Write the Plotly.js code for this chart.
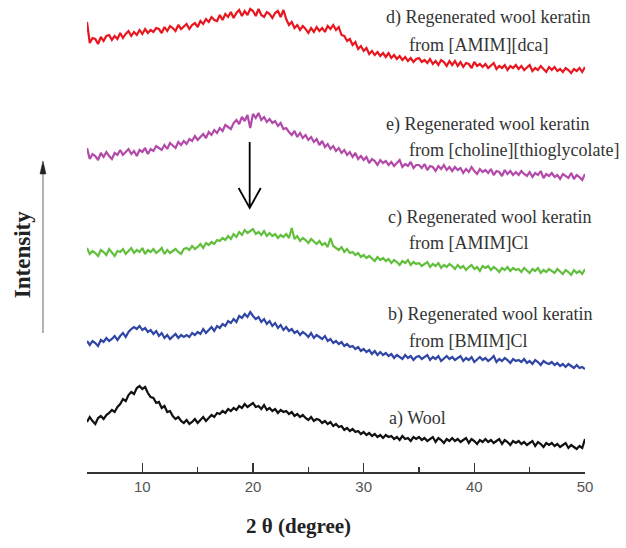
<!DOCTYPE html>
<html>
<head>
<meta charset="utf-8">
<script src="https://cdn.plot.ly/plotly-3.0.1.min.js"></script>
<style>html,body{margin:0;padding:0;background:#fff;}#chart{width:626px;height:548px;}</style>
</head>
<body>
<div id="chart"></div>
<script>
// 2θ sampling grid (degrees): 5 to 50 in 0.25° steps
const angleStart = 5, angleStep = 0.25, angleCount = 181;
const twoTheta = Array.from({length: angleCount}, (_, i) => angleStart + angleStep * i);

// Intensities (a.u., offset-stacked)
const woolKeratinDca = [
 450,429,434,433,428,435,431,436,437,432,436,433,
 439,434,438,441,436,440,437,442,438,443,439,442,
 440,444,443,439,445,441,446,444,441,447,443,446,
 448,443,447,449,445,451,448,453,450,455,452,451,
 457,452,458,455,460,454,459,462,456,461,457,463,
 461,456,463,457,455,460,458,454,459,461,455,462,
 453,447,450,444,447,442,446,443,439,444,440,445,
 441,444,440,446,443,447,442,445,437,436,431,433,
 427,430,423,426,421,424,418,421,417,420,416,419,
 415,419,414,417,413,416,412,415,411,414,410,413,
 414,410,412,409,413,408,411,407,412,410,406,411,
 407,411,406,410,405,409,408,404,410,406,408,405,
 408,404,407,409,403,406,404,407,402,406,404,407,
 403,406,402,405,407,401,404,402,406,403,400,405,
 402,405,401,403,400,404,402,399,403,401,404,400,
 405];
const woolKeratinThio = [
 324,313,318,316,312,319,315,320,316,313,319,317,
 322,317,320,323,318,321,316,322,320,324,318,323,
 321,326,324,322,327,323,329,326,324,330,327,331,
 328,333,331,336,332,335,338,334,340,337,342,339,
 344,341,347,345,343,349,352,348,355,351,357,344,
 358,354,359,352,355,350,353,349,351,346,349,343,
 344,340,337,341,335,339,334,337,332,335,330,333,
 327,331,325,328,323,326,321,324,319,322,317,320,
 315,319,313,316,312,315,309,313,311,307,312,309,
 311,307,310,306,309,312,305,308,306,310,304,307,
 307,304,308,302,306,305,301,306,303,307,302,305,
 301,305,302,304,299,303,300,305,301,298,303,300,
 302,299,303,297,301,300,296,302,298,301,297,300,
 297,301,298,296,300,295,299,297,301,294,298,296,
 299,295,297,293,298,296,294,299,293,297,295,292,
 298];
const woolKeratinAmimCl = [
 224,218,221,219,216,222,220,217,223,219,216,221,
 220,223,218,221,224,219,222,220,224,218,222,220,
 223,219,221,224,218,222,219,221,223,220,218,223,
 224,222,226,223,225,228,224,229,227,230,228,232,
 231,234,232,236,233,238,235,240,237,242,239,241,
 243,238,240,237,241,236,239,236,238,234,237,235,
 238,234,244,233,236,231,234,232,229,233,230,228,
 231,227,229,225,234,226,224,222,225,220,223,219,
 220,217,219,215,217,214,216,213,211,215,212,214,
 211,213,209,212,210,207,211,209,212,207,210,208,
 209,206,208,210,205,208,206,209,204,207,205,208,
 206,203,207,204,206,202,205,207,203,205,201,206,
 204,206,202,205,203,200,204,202,205,201,204,202,
 203,200,204,201,199,203,201,204,199,202,200,203,
 201,199,203,200,198,202,200,197,202,199,201,198,
 203];
const woolKeratinBmimCl = [
 131,127,131,129,126,132,130,134,131,133,136,132,
 136,139,135,140,143,145,143,146,142,144,140,142,
 138,141,136,139,134,137,133,136,138,134,137,135,
 137,135,139,137,140,138,143,139,142,145,141,146,
 144,148,146,151,149,153,150,156,154,158,155,160,
 156,153,155,150,153,148,151,146,149,144,147,142,
 145,141,143,139,141,137,140,138,135,139,134,137,
 135,133,136,131,133,129,131,128,130,126,128,125,
 126,123,125,121,123,120,122,118,121,117,120,117,
 119,116,118,114,117,115,113,117,114,116,112,115,
 116,113,115,117,112,115,113,116,111,114,116,113,
 115,112,114,116,111,114,112,115,110,113,115,112,
 114,111,113,116,110,113,111,114,112,109,113,111,
 112,110,113,109,111,108,112,110,107,111,109,108,
 110,107,109,106,108,105,108,106,104,107,104,105,
 103];
const wool = [
 50,55,51,48,54,56,53,57,59,62,60,65,
 68,73,71,77,80,78,84,86,83,85,79,75,
 74,69,70,64,66,60,61,56,53,55,51,49,
 52,48,50,53,49,52,55,51,54,57,55,59,
 58,61,59,63,61,64,62,66,64,68,65,67,
 69,65,66,63,67,62,64,61,63,59,62,60,
 61,58,60,56,58,55,57,54,52,55,51,53,
 52,49,51,48,50,46,48,45,46,42,44,41,
 43,40,41,38,40,37,39,36,38,35,37,34,
 37,35,36,33,35,32,36,33,34,31,35,33,
 35,32,34,31,33,35,30,34,32,29,33,31,
 34,31,33,30,32,34,29,33,31,28,32,30,
 33,30,32,29,31,33,28,32,30,27,31,29,
 31,28,30,27,29,31,26,30,28,25,29,27,
 29,26,28,25,27,29,24,27,25,23,26,24,
 33];

const seriesNames = ['d) [AMIM][dca]', 'e) [choline][thioglycolate]', 'c) [AMIM]Cl', 'b) [BMIM]Cl', 'a) Wool'];
const seriesColors = ['#e8161e', '#b24aa9', '#62bf3e', '#3046a6', '#111111'];
const seriesValues = [woolKeratinDca, woolKeratinThio, woolKeratinAmimCl, woolKeratinBmimCl, wool];

const labelLines = [
  ['d) Regenerated wool keratin', 'from [AMIM][dca]'],
  ['e) Regenerated wool keratin', 'from [choline][thioglycolate]'],
  ['c) Regenerated wool keratin', 'from [AMIM]Cl'],
  ['b) Regenerated wool keratin', 'from [BMIM]Cl'],
  ['a) Wool']
];
const xTickVals = [10, 20, 30, 40, 50];

const traces = seriesValues.map((vals, i) => ({
  x: twoTheta, y: vals, type: 'scatter', mode: 'lines', name: seriesNames[i],
  line: {color: seriesColors[i], width: 2.2}, hoverinfo: 'skip'
}));

const serif = '"Liberation Serif", "Times New Roman", serif';
const labelFont = {family: serif, size: 18, color: '#333'};
// label anchor positions (data coords)
const labelPos = [
  [[31.8, 455], [33.9, 427]],
  [[31.8, 348], [33.9, 322]],
  [[32.0, 255], [33.9, 229]],
  [[32.0, 158], [33.9, 131]],
  [[32.1, 54]]
];
const annotations = [];
labelLines.forEach((lines, i) => {
  lines.forEach((t, j) => {
    annotations.push({x: labelPos[i][j][0], y: labelPos[i][j][1], xref: 'x', yref: 'y', text: t,
      showarrow: false, xanchor: 'left', yanchor: 'middle', font: labelFont});
  });
});
annotations.push({x: -0.128, y: 0.46, xref: 'paper', yref: 'paper', text: '<b>Intensity</b>',
  textangle: -90, showarrow: false, xanchor: 'center', yanchor: 'middle',
  font: {family: serif, size: 23, color: '#222'}});
annotations.push({x: 0.425, y: -0.114, xref: 'paper', yref: 'paper', text: '<b>2 θ (degree)</b>',
  showarrow: false, xanchor: 'center', yanchor: 'middle',
  font: {family: serif, size: 21, color: '#222'}});

const arrowX = 19.7;
const shapes = [
  // downward arrow
  {type: 'path', xref: 'x', yref: 'y', path: `M ${arrowX},330 L ${arrowX},264 M ${arrowX-1.0},284 L ${arrowX},264 L ${arrowX+1.0},284`,
   line: {color: '#000', width: 1.8}},
  // y-axis intensity arrow
  {type: 'line', xref: 'paper', yref: 'y', x0: -0.0884, x1: -0.0884, y0: 139, y1: 302, line: {color: '#999', width: 1.5}},
  {type: 'path', xref: 'paper', yref: 'y', path: 'M -0.0944,298 L -0.0884,311 L -0.0824,298 Z',
   fillcolor: '#222', line: {color: '#222', width: 0.5}}
];

const layout = {
  width: 626, height: 548,
  margin: {l: 87, r: 41, t: 0, b: 76},
  paper_bgcolor: '#fff', plot_bgcolor: '#fff',
  showlegend: false,
  xaxis: {
    range: [5, 50], tickvals: xTickVals, ticks: 'inside', ticklen: 9, tickwidth: 1.5, tickcolor: '#333',
    showline: true, linecolor: '#333', linewidth: 1.5, showgrid: false, zeroline: false,
    tickfont: {family: 'Liberation Sans, Arial, sans-serif', size: 15, color: '#555'},
    minor: {dtick: 5, tick0: 0, ticks: 'inside', ticklen: 5, tickwidth: 1.3, tickcolor: '#333', showgrid: false}
  },
  yaxis: {range: [0, 472], visible: false, fixedrange: true},
  annotations: annotations,
  shapes: shapes
};

Plotly.newPlot('chart', traces, layout, {displayModeBar: false, staticPlot: true});
</script>
</body>
</html>
